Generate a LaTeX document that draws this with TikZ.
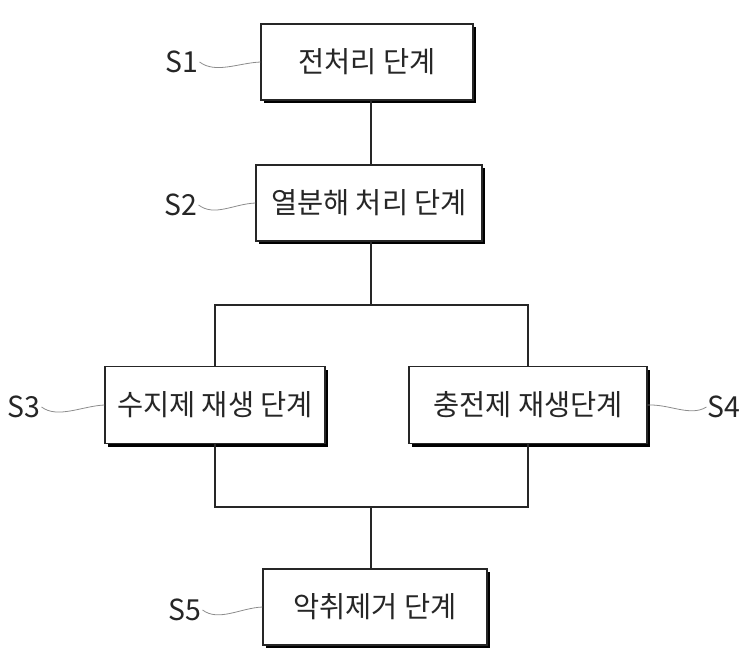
\documentclass[tikz,border=0pt]{standalone}
\usepackage{fontspec}
\usepackage{graphicx}
\setmainfont{Noto Sans CJK KR}
\usetikzlibrary{shadows}
\newcommand{\narrowtxt}[1]{\scalebox{0.98}[1]{#1}}
\begin{document}
\begin{tikzpicture}[x=1pt,y=-1pt,
  stepbox/.style={draw=black!85, line width=1.3pt, fill=white, rectangle,
    minimum height=76pt, inner sep=0pt, text=black!85,
    font=\fontsize{29}{32}\selectfont,
    drop shadow={shadow xshift=3pt, shadow yshift=-3pt, fill=black, opacity=1}},
  lab/.style={text=black!85, font=\fontsize{29}{32}\selectfont, inner sep=1pt},
  conn/.style={draw=black!85, line width=1.4pt},
  sq/.style={draw=black!45, line width=0.8pt}]
\useasboundingbox (0,0) rectangle (743,648);
% boxes
\node[stepbox, minimum width=212pt] (s1) at (367,62) {\narrowtxt{전처리 단계}};
\node[stepbox, minimum width=226pt] (s2) at (369,203) {\narrowtxt{열분해 처리 단계}};
\node[stepbox, minimum width=220pt, minimum height=77pt] (s3) at (215,405) {\narrowtxt{수지제 재생 단계}};
\node[stepbox, minimum width=238pt, minimum height=77pt] (s4) at (528,405) {\narrowtxt{충전제 재생단계}};
\node[stepbox, minimum width=224pt] (s5) at (375,607) {\narrowtxt{악취제거 단계}};
% labels
\node[lab] (l1) at (182,62) {\narrowtxt{S1}};
\node[lab] (l2) at (181,205) {\narrowtxt{S2}};
\node[lab] (l3) at (24,407) {\narrowtxt{S3}};
\node[lab] (l4) at (724,407) {\narrowtxt{S4}};
\node[lab] (l5) at (185,610) {\narrowtxt{S5}};
% junctions
\coordinate (jt) at (371,305);
\coordinate (jb) at (371,507);
% connectors
\draw[conn] (s1.south -| jt) -- (s2.north -| jt);
\draw[conn] (s2.south -| jt) -- (jt);
\draw[conn] (s3.north) |- (jt) -| (s4.north);
\draw[conn] (s3.south) |- (jb) -| (s4.south);
\draw[conn] (jb) -- (jb |- s5.north);
% squiggles
\draw[sq] (l1.east) .. controls +(16,12) and +(-22,1) .. (s1.west);
\draw[sq] (l2.east) .. controls +(16,12) and +(-22,1) .. (s2.west);
\draw[sq] (l3.east) .. controls +(16,12) and +(-22,1) .. (s3.west);
\draw[sq] (l5.east) .. controls +(16,12) and +(-22,1) .. (s5.west);
\draw[sq] (s4.east) .. controls +(22,-1) and +(-16,10) .. (l4.west);
\end{tikzpicture}
\end{document}
